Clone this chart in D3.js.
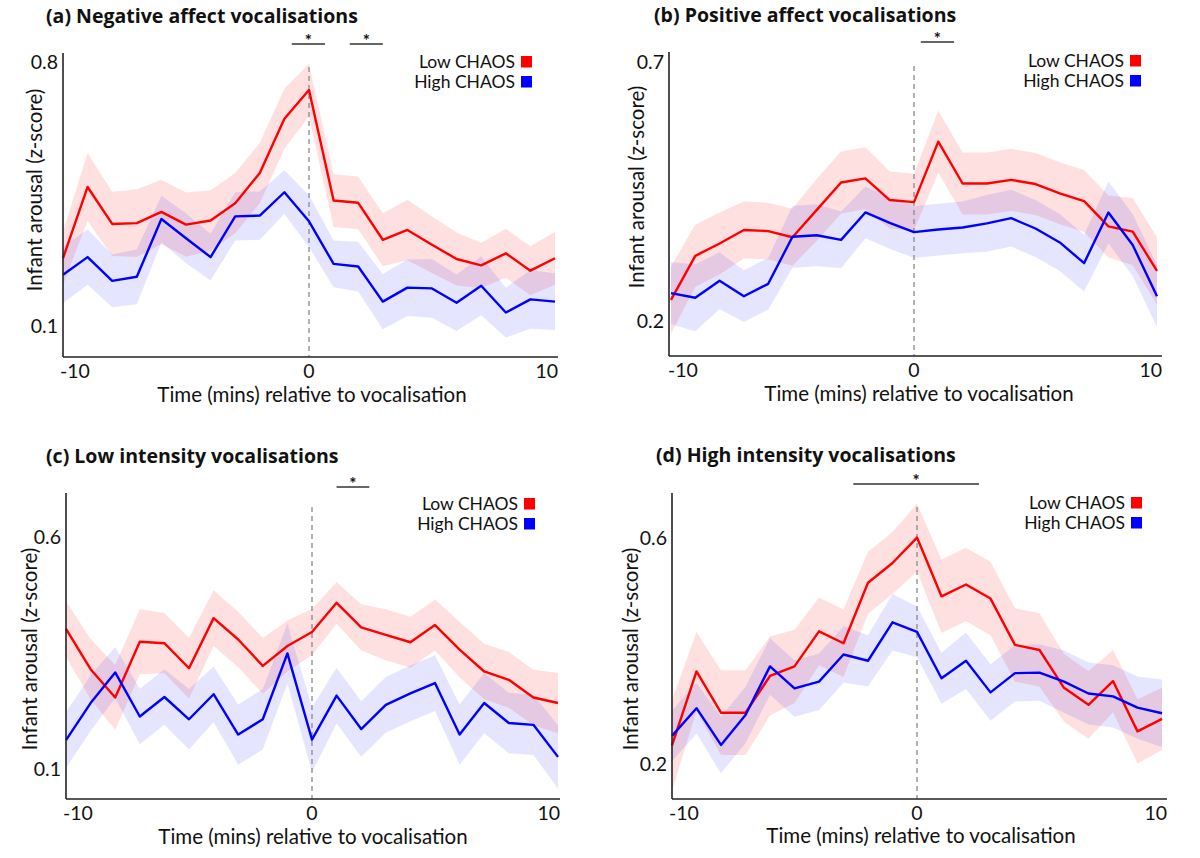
<!DOCTYPE html>
<html>
<head>
<meta charset="utf-8">
<script src="https://cdn.jsdelivr.net/npm/d3@7"></script>
<style>
  html, body { margin: 0; padding: 0; background: #fff; }
  svg { display: block; }
  text { font-family: Lato, "Open Sans", sans-serif; fill: #111; }
  text.title { font-family: "Open Sans", Lato, sans-serif; font-weight: 700; }
</style>
</head>
<body>
<svg id="chart" width="1200" height="858"></svg>
<script>
// ---------- DATA ----------
const times = d3.range(-10, 11); // -10 ... 10 minutes

const titles = [
  "(a) Negative affect vocalisations",
  "(b) Positive affect vocalisations",
  "(c) Low intensity vocalisations",
  "(d) High intensity vocalisations"
];
const seriesNames = ["Low CHAOS", "High CHAOS"];
const xTickLabels = ["-10", "0", "10"];
const yTickValues = [[0.1, 0.8], [0.2, 0.7], [0.1, 0.6], [0.2, 0.6]];
const xAxisTitle = "Time (mins) relative to vocalisation";
const yAxisTitle = "Infant arousal (z-score)";

// (a) Negative affect
const negLow  = [0.277,0.466,0.368,0.370,0.400,0.366,0.377,0.423,0.503,0.647,0.723,0.430,0.424,0.326,0.352,0.313,0.275,0.258,0.290,0.244,0.277];
const negLowSE  = [0.07,0.09,0.085,0.09,0.085,0.085,0.08,0.08,0.08,0.08,0.07,0.07,0.07,0.07,0.08,0.075,0.07,0.06,0.065,0.065,0.07];
const negHigh = [0.233,0.280,0.217,0.228,0.381,0.330,0.280,0.388,0.390,0.452,0.375,0.262,0.255,0.162,0.199,0.197,0.159,0.204,0.133,0.168,0.162];
const negHighSE = [0.075,0.073,0.07,0.073,0.062,0.066,0.062,0.064,0.064,0.058,0.069,0.062,0.066,0.073,0.075,0.078,0.075,0.078,0.066,0.078,0.075];

// (b) Positive affect
const posLow  = [0.239,0.324,0.348,0.374,0.372,0.360,0.413,0.466,0.474,0.432,0.428,0.545,0.464,0.464,0.471,0.463,0.445,0.430,0.381,0.371,0.295];
const posLowSE  = [0.065,0.06,0.06,0.055,0.055,0.055,0.06,0.06,0.06,0.055,0.055,0.06,0.06,0.06,0.06,0.06,0.06,0.06,0.06,0.065,0.065];
const posHigh = [0.252,0.243,0.276,0.246,0.270,0.361,0.364,0.355,0.408,0.388,0.370,0.375,0.379,0.387,0.397,0.377,0.350,0.310,0.408,0.345,0.246];
const posHighSE = [0.06,0.065,0.055,0.05,0.05,0.06,0.06,0.055,0.05,0.05,0.05,0.05,0.05,0.055,0.055,0.055,0.055,0.055,0.06,0.06,0.06];

// (c) Low intensity
const lowIntLow  = [0.400,0.313,0.252,0.372,0.369,0.315,0.423,0.377,0.320,0.363,0.393,0.456,0.403,0.387,0.371,0.408,0.355,0.308,0.290,0.252,0.240];
const lowIntLowSE  = [0.06,0.065,0.07,0.07,0.065,0.065,0.06,0.06,0.06,0.055,0.05,0.045,0.05,0.055,0.055,0.055,0.06,0.06,0.06,0.06,0.065];
const lowIntHigh = [0.160,0.240,0.306,0.211,0.253,0.205,0.259,0.172,0.205,0.347,0.161,0.256,0.184,0.236,0.261,0.283,0.172,0.240,0.197,0.193,0.124];
const lowIntHighSE = [0.06,0.06,0.055,0.06,0.06,0.065,0.06,0.065,0.065,0.065,0.07,0.06,0.06,0.06,0.06,0.06,0.065,0.065,0.065,0.065,0.068];

// (d) High intensity
const highIntLow  = [0.231,0.362,0.289,0.289,0.354,0.371,0.433,0.412,0.519,0.554,0.599,0.495,0.516,0.491,0.409,0.400,0.333,0.303,0.345,0.256,0.278];
const highIntLowSE  = [0.08,0.07,0.075,0.075,0.07,0.065,0.06,0.06,0.055,0.055,0.06,0.065,0.065,0.065,0.065,0.065,0.06,0.06,0.055,0.057,0.055];
const highIntHigh = [0.248,0.297,0.232,0.285,0.371,0.332,0.344,0.392,0.381,0.449,0.432,0.350,0.381,0.325,0.359,0.360,0.344,0.323,0.318,0.298,0.288];
const highIntHighSE = [0.045,0.045,0.05,0.05,0.05,0.05,0.05,0.05,0.045,0.05,0.045,0.045,0.05,0.05,0.05,0.05,0.055,0.055,0.055,0.055,0.06];

// significance bars (time ranges, minutes)
const sigRanges = [
  [[-0.7, 0.65], [1.66, 3.0]],
  [[0.28, 1.65]],
  [[1.0, 2.33]],
  [[-2.6, 2.53]]
];

const panelData = [
  { low: negLow, lowSE: negLowSE, high: negHigh, highSE: negHighSE },
  { low: posLow, lowSE: posLowSE, high: posHigh, highSE: posHighSE },
  { low: lowIntLow, lowSE: lowIntLowSE, high: lowIntHigh, highSE: lowIntHighSE },
  { low: highIntLow, lowSE: highIntLowSE, high: highIntHigh, highSE: highIntHighSE }
];

// ---------- LAYOUT ----------
const layouts = [
  { axL: 63,  xm10: 63,  x10: 555,  axR: 558,  top: 53,  bot: 357, yPx: [325, 61],   titleX: 46,  titleY: 23,  sigY: 44,  legX: 521,  legY: 56,  yLabX: 42,  yLabY: 190, xLabX: 312, xLabY: 402 },
  { axL: 669, xm10: 671, x10: 1157, axR: 1162, top: 52,  bot: 356, yPx: [320, 61.5], titleX: 654, titleY: 22,  sigY: 42,  legX: 1130, legY: 55,  yLabX: 644, yLabY: 187, xLabX: 919, xLabY: 401 },
  { axL: 66,  xm10: 66,  x10: 558,  axR: 560,  top: 493, bot: 799, yPx: [768, 536],  titleX: 46,  titleY: 463, sigY: 487, legX: 524,  legY: 498, yLabX: 37,  yLabY: 649, xLabX: 313, xLabY: 844 },
  { axL: 672, xm10: 672, x10: 1162, axR: 1167, top: 493, bot: 799, yPx: [763, 537],  titleX: 656, titleY: 462, sigY: 484, legX: 1131, legY: 497, yLabX: 638, yLabY: 649, xLabX: 921, xLabY: 843 }
];

const RED = "#ff0000", BLUE = "#0000ff";
const svg = d3.select("#chart");

// title size fitted so panel (a)'s title spans the same width as in the figure
function fitSize(text, cls, weight, target, base) {
  const t = svg.append("text").attr("class", cls).attr("font-size", base).attr("font-weight", weight).text(text);
  const w = t.node().getComputedTextLength();
  t.remove();
  return base * target / w;
}
const titleSize = Math.min(20, fitSize(titles[0], "title", 700, 312, 18));

panelData.forEach((pd, i) => {
  const L = layouts[i];
  const g = svg.append("g");
  const x = d3.scaleLinear().domain([-10, 10]).range([L.xm10, L.x10]);
  const y = d3.scaleLinear().domain(yTickValues[i]).range(L.yPx);

  // bands
  const band = (mean, se) => d3.area()
    .x((d, k) => x(times[k]))
    .y0((d, k) => y(mean[k] - se[k]))
    .y1((d, k) => y(mean[k] + se[k]))(mean);
  g.append("path").attr("d", band(pd.low, pd.lowSE)).attr("fill", RED).attr("fill-opacity", 0.12);
  g.append("path").attr("d", band(pd.high, pd.highSE)).attr("fill", BLUE).attr("fill-opacity", 0.1);

  // dashed zero line
  g.append("line")
    .attr("x1", x(0)).attr("x2", x(0))
    .attr("y1", L.top + 14).attr("y2", L.bot)
    .attr("stroke", "#8a8a8a").attr("stroke-width", 1.3).attr("stroke-dasharray", "5,4");

  // lines
  const line = d3.line().x((d, k) => x(times[k])).y(d => y(d));
  g.append("path").attr("d", line(pd.low)).attr("fill", "none").attr("stroke", RED).attr("stroke-width", 2.4).attr("stroke-linejoin", "round");
  g.append("path").attr("d", line(pd.high)).attr("fill", "none").attr("stroke", BLUE).attr("stroke-width", 2.4).attr("stroke-linejoin", "round");

  // axes lines
  g.append("line").attr("x1", L.axL).attr("x2", L.axL).attr("y1", L.top).attr("y2", L.bot)
    .attr("stroke", "#222").attr("stroke-width", 1.6);
  g.append("line").attr("x1", L.axL).attr("x2", L.axR).attr("y1", L.bot).attr("y2", L.bot)
    .attr("stroke", "#222").attr("stroke-width", 1.6);

  // y tick labels
  yTickValues[i].forEach(v => {
    g.append("text").attr("x", L.axL - 5).attr("y", y(v))
      .attr("text-anchor", "end").attr("dominant-baseline", "central")
      .attr("font-size", 19.5).text(d3.format(".1f")(v));
  });
  // x tick labels
  [-10, 0, 10].forEach((v, k) => {
    const anchor = k === 0 ? "start" : (k === 2 ? "end" : "middle");
    const px = k === 0 ? x(v) - 3 : (k === 2 ? L.axR : x(v));
    g.append("text").attr("x", px).attr("y", L.bot + 21)
      .attr("text-anchor", anchor).attr("font-size", 19.5).text(xTickLabels[k]);
  });

  // axis titles
  g.append("text").attr("x", L.xLabX).attr("y", L.xLabY).attr("text-anchor", "middle")
    .attr("font-size", 20.5).text(xAxisTitle);
  g.append("text").attr("transform", `translate(${L.yLabX},${L.yLabY}) rotate(-90)`)
    .attr("text-anchor", "middle").attr("font-size", 20.5).text(yAxisTitle);

  // panel title
  g.append("text").attr("class", "title").attr("x", L.titleX).attr("y", L.titleY)
    .attr("font-size", titleSize).attr("font-weight", 700).text(titles[i]);

  // significance bars
  sigRanges[i].forEach(r => {
    g.append("line").attr("x1", x(r[0])).attr("x2", x(r[1])).attr("y1", L.sigY).attr("y2", L.sigY)
      .attr("stroke", "#333").attr("stroke-width", 1.5);
    g.append("text").attr("x", (x(r[0]) + x(r[1])) / 2).attr("y", L.sigY + 3)
      .attr("text-anchor", "middle").attr("font-size", 17).attr("font-weight", 700).text("*");
  });

  // legend
  [RED, BLUE].forEach((c, k) => {
    const sy = L.legY + k * 20;
    g.append("rect").attr("x", L.legX).attr("y", sy).attr("width", 11).attr("height", 11.5).attr("fill", c);
    g.append("text").attr("x", L.legX - 6).attr("y", sy + 11.5).attr("text-anchor", "end")
      .attr("font-size", 17.5).text(seriesNames[k]);
  });
});
</script>
</body>
</html>
